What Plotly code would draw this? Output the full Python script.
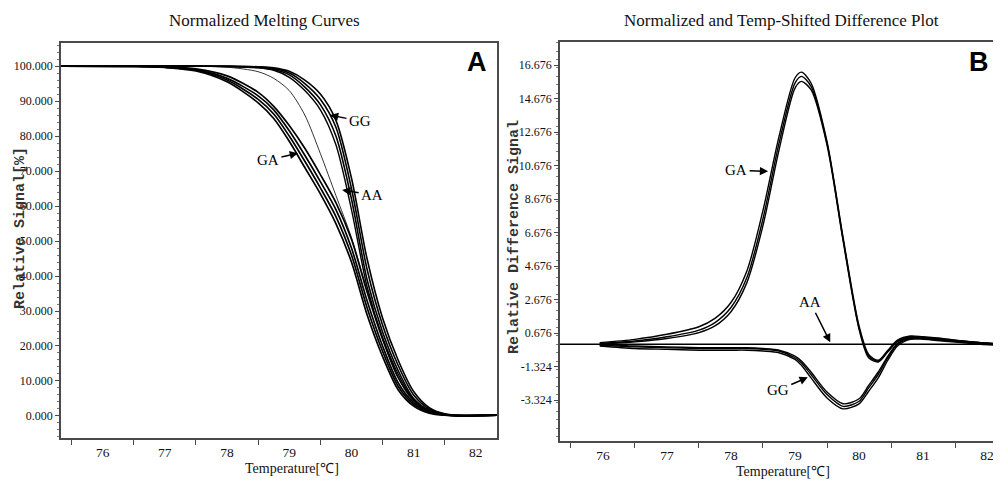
import plotly.graph_objects as go

# ---------------- data: panel A (normalized melting curves) ----------------
T_A = [75.33, 76.5, 77.0, 77.5, 78.0, 78.5, 78.75, 79.0, 79.25, 79.5,
       79.75, 80.0, 80.25, 80.5, 80.75, 81.0, 81.25, 81.5, 81.75, 82.34]

GA_A1 = [100, 99.9, 99.6, 98.6, 95.5, 89.5, 85.0, 78.5, 71.0, 63.5,
         55.0, 44.0, 29.0, 17.0, 7.5, 2.8, 0.8, 0.2, 0.1, 0.2]
GA_A2 = [100, 99.9, 99.7, 99.0, 96.5, 91.5, 87.5, 81.5, 74.5, 67.0,
         59.0, 48.0, 33.0, 20.0, 9.5, 3.8, 1.2, 0.3, 0.1, 0.2]
GA_A3 = [100, 100, 99.8, 99.2, 97.2, 92.5, 88.5, 83.0, 76.5, 69.0,
         61.0, 50.5, 35.5, 22.0, 11.0, 4.5, 1.5, 0.4, 0.1, 0.3]
GA_A4 = [100, 99.9, 99.7, 98.8, 96.0, 90.5, 86.3, 80.0, 72.8, 65.2,
         57.0, 46.0, 31.0, 18.5, 8.5, 3.3, 1.0, 0.3, 0.1, 0.2]

GG_A1 = [100, 100, 100, 100, 99.9, 99.6, 99.0, 97.5, 94.0, 89.0,
         80.0, 62.0, 39.0, 24.0, 13.0, 5.0, 1.6, 0.4, 0.1, 0.2]
GG_A2 = [100, 100, 100, 100, 99.9, 99.7, 99.3, 98.0, 95.0, 90.5,
         82.5, 65.0, 42.0, 26.0, 14.5, 6.0, 2.0, 0.5, 0.1, 0.2]
GG_A3 = [100, 100, 100, 100, 100, 99.8, 99.5, 98.5, 96.0, 92.0,
         84.5, 68.0, 45.0, 28.0, 16.0, 7.0, 2.4, 0.6, 0.1, 0.3]

AA_A1 = [100, 100, 100, 100, 99.9, 99.5, 98.8, 96.8, 93.0, 87.5,
         77.5, 59.0, 37.0, 22.5, 12.0, 4.6, 1.4, 0.3, 0.1, 0.2]
AA_A2 = [100, 100, 100, 99.9, 99.7, 98.4, 96.5, 93.0, 86.0, 75.0,
         63.0, 51.0, 36.0, 22.0, 11.0, 4.0, 1.2, 0.3, 0.1, 0.2]

Y_TICKS_A = [0, 10, 20, 30, 40, 50, 60, 70, 80, 90, 100]
Y_TICKTEXT_A = ["0.000", "10.000", "20.000", "30.000", "40.000", "50.000",
                "60.000", "70.000", "80.000", "90.000", "100.000"]

# ---------------- data: panel B (difference plot) ----------------
T_B = [75.95, 76.5, 77.0, 77.5, 77.75, 78.0, 78.25, 78.5, 78.75, 79.0,
       79.1, 79.25, 79.5, 79.75, 80.0, 80.15, 80.3, 80.45, 80.6, 80.8,
       81.0, 81.3, 81.6, 81.9, 82.15]

GA_B1 = [0.05, 0.20, 0.45, 0.85, 1.30, 2.20, 4.00, 7.50, 12.00, 15.60,
         16.00, 15.40, 12.00, 6.30, 1.00, -0.70, -1.00, -0.40, 0.20, 0.45,
         0.40, 0.30, 0.20, 0.10, 0.00]
GA_B2 = [0.10, 0.30, 0.60, 1.05, 1.55, 2.50, 4.40, 8.00, 12.40, 15.90,
         16.25, 15.60, 12.10, 6.40, 1.10, -0.60, -0.95, -0.35, 0.25, 0.50,
         0.45, 0.35, 0.20, 0.10, 0.05]
GA_B3 = [0.00, 0.15, 0.35, 0.70, 1.10, 1.95, 3.70, 7.10, 11.60, 15.30,
         15.70, 15.20, 11.90, 6.20, 0.90, -0.80, -1.05, -0.45, 0.15, 0.40,
         0.35, 0.25, 0.15, 0.05, 0.00]

GG_B1 = [-0.05, -0.15, -0.20, -0.25, -0.25, -0.25, -0.25, -0.30, -0.40, -0.80,
         -1.10, -1.80, -3.00, -3.70, -3.40, -2.60, -1.80, -0.80, 0.00, 0.35,
         0.35, 0.25, 0.15, 0.05, 0.00]
GG_B2 = [-0.10, -0.25, -0.30, -0.35, -0.35, -0.35, -0.35, -0.40, -0.50, -0.90,
         -1.25, -2.00, -3.20, -3.85, -3.55, -2.80, -2.00, -0.95, -0.10, 0.30,
         0.30, 0.20, 0.10, 0.00, -0.05]
GG_B3 = [0.00, -0.10, -0.15, -0.20, -0.20, -0.20, -0.20, -0.25, -0.35, -0.70,
         -1.00, -1.65, -2.85, -3.55, -3.25, -2.45, -1.65, -0.70, 0.05, 0.40,
         0.40, 0.30, 0.20, 0.10, 0.05]

T_AA_B = [75.33, 76.0, 77.0, 78.0, 79.0, 80.0, 81.0, 82.0, 82.17]
AA_B = [0, 0, 0, 0, 0, 0, 0, 0, 0]

Y_TICKS_B = [-3.324, -1.324, 0.676, 2.676, 4.676, 6.676, 8.676, 10.676,
             12.676, 14.676, 16.676]
Y_TICKTEXT_B = ["-3.324", "-1.324", "0.676", "2.676", "4.676", "6.676",
                "8.676", "10.676", "12.676", "14.676", "16.676"]

X_TICKS = [76, 77, 78, 79, 80, 81, 82]
X_TICKTEXT = ["76", "77", "78", "79", "80", "81", "82"]
X_MINOR = [75.5, 76.5, 77.5, 78.5, 79.5, 80.5, 81.5]

# ---------------- page geometry (browser body has an 8 px margin) ----------
OFF = 8
W, H = 1001 - OFF, 480 - OFF

def px(x):
    return (x - OFF) / W

def py(y):
    return 1 - (y - OFF) / H

# ---------------- styling ----------------
SERIF = "Liberation Serif, Times New Roman, serif"
MONO = "Liberation Mono, DejaVu Sans Mono, monospace"
FRAME = "#4a4a4a"

fig = go.Figure()

def add_line(x, y, xa, ya, width, name):
    fig.add_trace(go.Scatter(
        x=x, y=y, xaxis=xa, yaxis=ya, mode="lines", name=name,
        line=dict(color="black", width=width, shape="spline", smoothing=0.8),
        showlegend=False, hoverinfo="skip"))

for s in (GA_A1, GA_A4, GA_A2, GA_A3):
    add_line(T_A, s, "x", "y", 1.7, "GA")
for s in (GG_A1, GG_A2, GG_A3):
    add_line(T_A, s, "x", "y", 1.6, "GG")
add_line(T_A, AA_A1, "x", "y", 1.4, "AA")
add_line(T_A, AA_A2, "x", "y", 0.8, "AA")

add_line(T_AA_B, AA_B, "x2", "y2", 1.5, "AA")
for s in (GA_B1, GA_B2, GA_B3):
    add_line(T_B, s, "x2", "y2", 1.4, "GA")
for s in (GG_B1, GG_B2, GG_B3):
    add_line(T_B, s, "x2", "y2", 1.4, "GG")

xaxis_common = dict(
    tickmode="array", tickvals=X_TICKS, ticktext=X_TICKTEXT, ticks="",
    ticklabelstandoff=1,
    minor=dict(tickmode="array", tickvals=X_MINOR, ticks="outside",
               ticklen=5, tickcolor=FRAME, showgrid=False),
    showline=True, linecolor=FRAME, linewidth=1.6, mirror=True,
    showgrid=False, zeroline=False, automargin=False,
    tickfont=dict(family=SERIF, size=13.5, color="#111"),
)
yaxis_common = dict(
    tickmode="array", ticks="outside", ticklen=4, tickcolor=FRAME,
    showline=True, linecolor=FRAME, linewidth=1.6, mirror=True,
    showgrid=False, zeroline=False, automargin=False,
    tickfont=dict(family=SERIF, size=12, color="#111"),
)

fig.update_layout(
    width=W, height=H,
    margin=dict(l=0, r=0, t=0, b=0),
    paper_bgcolor="white", plot_bgcolor="white",
    xaxis=dict(domain=[px(61), px(497)], range=[75.33, 82.34],
               anchor="y", **xaxis_common),
    yaxis=dict(domain=[py(438), py(43)], range=[-6.3, 106.6],
               anchor="x", tickvals=Y_TICKS_A, ticktext=Y_TICKTEXT_A,
               minor=dict(dtick=2, ticks="outside", ticklen=2,
                          tickcolor="#777", showgrid=False),
               **yaxis_common),
    xaxis2=dict(domain=[px(560), px(998)], range=[75.33, 82.17],
                anchor="y2", **xaxis_common),
    yaxis2=dict(domain=[py(441), py(42)], range=[-5.77, 18.05],
                anchor="x2", tickvals=Y_TICKS_B, ticktext=Y_TICKTEXT_B,
                minor=dict(dtick=0.5, ticks="outside", ticklen=2,
                           tickcolor="#777", showgrid=False),
                **yaxis_common),
)

def text_at(text, x, y, font, angle=0):
    return dict(text=text, x=px(x), y=py(y), xref="paper", yref="paper",
                xanchor="center", yanchor="middle", showarrow=False,
                textangle=angle, font=font)

title_font = dict(family=SERIF, size=17, color="#111")
xt_font = dict(family=SERIF, size=14, color="#111")
ann = [
    text_at("Normalized Melting Curves", 264, 20, title_font),
    text_at("Normalized and Temp-Shifted Difference Plot", 781, 20, title_font),
    text_at("Temperature[℃]", 292, 468, xt_font),
    text_at("Temperature[℃]", 783, 471, xt_font),
    text_at("<b>Relative Signal[%]</b>", 20, 228,
            dict(family=MONO, size=15, color="#333"), -90),
    text_at("<b>Relative Difference Signal</b>", 515, 237,
            dict(family=MONO, size=15, color="#333"), -90),
    text_at("<b>A</b>", 477, 62,
            dict(family="Liberation Sans, Arial, sans-serif", size=27, color="black")),
    text_at("<b>B</b>", 979, 62,
            dict(family="Liberation Sans, Arial, sans-serif", size=27, color="black")),
]

lab_font = dict(family=SERIF, size=15, color="black")

def arrow(text, x, y, ax, ay, xr, yr):
    ann.append(dict(text=text, x=x, y=y, ax=ax, ay=ay, xref=xr, yref=yr,
                    axref="pixel", ayref="pixel", showarrow=True,
                    arrowhead=2, arrowsize=1.1, arrowwidth=1.5,
                    arrowcolor="black", standoff=0, startstandoff=1,
                    font=lab_font))

arrow("GG", 79.655, 86.0, 30, 6, "x", "y")
arrow("GA", 79.14, 75.1, -30, 7, "x", "y")
arrow("AA", 79.85, 64.6, 30, 5, "x", "y")
arrow("GA", 78.58, 10.33, -32, -1, "x2", "y2")
arrow("AA", 79.55, 0.12, -20, -40, "x2", "y2")
arrow("GG", 79.2, -1.97, -30, 13, "x2", "y2")

fig.update_layout(annotations=ann)
fig.write_html("out.html")
